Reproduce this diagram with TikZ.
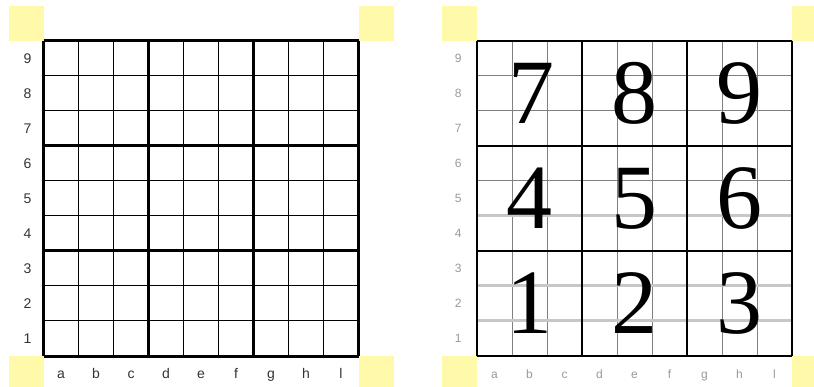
\documentclass[tikz,border=0pt]{standalone}
\usepackage{fontspec}
\setmainfont{Liberation Serif}
\setsansfont{Liberation Sans}
\usepackage{tikz}

\definecolor{paleyellow}{RGB}{255,250,170}

\tikzset{
  corner/.style={fill=paleyellow},
  finerule/.style={black, line width=1pt},
  blockrule/.style={black, line width=3pt},
  greyrule/.style={black!50, line width=1pt},
  bandrule/.style={black!22, line width=3pt},
  boldrule/.style={black, line width=2pt},
  rowlab/.style={font=\sffamily\fontsize{14}{14}\selectfont, text=black!80, inner sep=0pt},
  collab/.style={rowlab, anchor=base},
  greylab/.style={font=\sffamily\fontsize{12}{12}\selectfont, text=black!40, inner sep=0pt},
  greycol/.style={greylab, anchor=base},
  bigdigit/.style={font=\fontsize{92}{92}\selectfont, inner sep=0pt}
}

\begin{document}
\begin{tikzpicture}[x=1pt, y=-1pt]
\useasboundingbox (0,0) rectangle (814,387);
\clip (0,0) rectangle (814,387);

% left board
\begin{scope}[shift={(43.5,41)}, x=35pt, y=-35pt]
\fill[corner] (-1,-1) rectangle (0,0);
\fill[corner] (9,-1) rectangle (10,0);
\fill[corner] (-1,9) rectangle (0,10);
\fill[corner] (9,9) rectangle (10,10);
\foreach \i in {0,...,9} {
  \draw[finerule] (\i,0) -- (\i,9);
  \draw[finerule] (0,\i) -- (9,\i);
}
\foreach \i in {0,3,6,9} {
  \draw[blockrule] (\i,0) -- (\i,9);
  \draw[blockrule] (0,\i) -- (9,\i);
}
\foreach \r [count=\k] in {9,...,1}
  \node[rowlab] (lrow\r) at (-0.46,\k-0.5) {\r};
\foreach \c [count=\k] in {a,b,c,d,e,f,g,h,l}
  \node[collab] (lcol\c) at (\k-0.5,9.63) {\c};
\end{scope}

% right board
\begin{scope}[shift={(477,41)}, x=35pt, y=-35pt]
\fill[corner] (-1,-1) rectangle (0,0);
\fill[corner] (9,-1) rectangle (10,0);
\fill[corner] (-1,9) rectangle (0,10);
\fill[corner] (9,9) rectangle (10,10);
\foreach \i in {0,...,9} {
  \draw[greyrule] (\i,0) -- (\i,9);
  \draw[greyrule] (0,\i) -- (9,\i);
}
\foreach \i in {5,7,8}
  \draw[bandrule] (0,\i) -- (9,\i);
\foreach \i in {0,3,6,9} {
  \draw[boldrule] (\i,0) -- (\i,9);
  \draw[boldrule] (0,\i) -- (9,\i);
}
\foreach \r [count=\k] in {9,...,1}
  \node[greylab] (rrow\r) at (-0.54,\k-0.5) {\r};
\foreach \c [count=\k] in {a,b,c,d,e,f,g,h,l}
  \node[greycol] (rcol\c) at (\k-0.5,9.63) {\c};
\node[bigdigit] (big7) at (1.55,1.5) {7};
\node[bigdigit] (big8) at (4.5,1.5) {8};
\node[bigdigit] (big9) at (7.5,1.5) {9};
\node[bigdigit] (big4) at (1.5,4.5) {4};
\node[bigdigit] (big5) at (4.5,4.5) {5};
\node[bigdigit] (big6) at (7.5,4.5) {6};
\node[bigdigit] (big1) at (1.5,7.5) {1};
\node[bigdigit] (big2) at (4.5,7.5) {2};
\node[bigdigit] (big3) at (7.5,7.5) {3};
\end{scope}
\end{tikzpicture}
\end{document}
